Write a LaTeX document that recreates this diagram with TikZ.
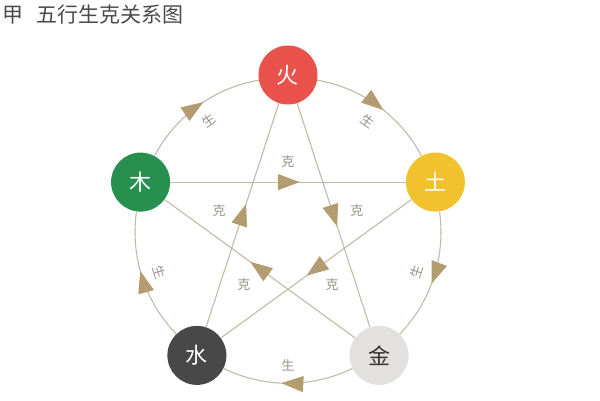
\documentclass[tikz,border=0pt]{standalone}
\usepackage{fontspec}
\newfontfamily\cjk{Noto Sans CJK SC}
\usetikzlibrary{arrows.meta,decorations.markings,positioning}

\definecolor{huocol}{HTML}{E8524A}
\definecolor{mucol}{HTML}{27904E}
\definecolor{tucol}{HTML}{F1C22E}
\definecolor{shuicol}{HTML}{484848}
\definecolor{jincol}{HTML}{E3E1DF}
\definecolor{linkcol}{HTML}{C2B9A8}
\definecolor{tipcol}{HTML}{B39C70}
\definecolor{lblcol}{HTML}{979285}
\definecolor{titlecol}{HTML}{4A4A4A}

\begin{document}
\begin{tikzpicture}[x=1pt,y=1pt,auto,
                    every edge/.style={draw=linkcol,line width=1.1pt}]
  \tikzstyle{element}=[circle,minimum size=59pt,inner sep=0pt,text=white,
                       font=\cjk\fontsize{22}{22}\selectfont]
  \tikzstyle{mid}=[postaction={decorate,decoration={markings,
                   mark=at position 0.55 with {\arrow{Triangle[length=22pt,width=16pt,color=tipcol]}}}}]
  \tikzstyle{lbl}=[font=\cjk\fontsize{13}{13}\selectfont,text=lblcol,inner sep=12pt]
  \tikzstyle{round}=[bend left=26,looseness=0.9,mid]

  \useasboundingbox (-288,-170) rectangle (312,230);

  \node[anchor=west,inner sep=0pt,text=titlecol,font=\cjk\fontsize{21}{21}\selectfont]
    (title) at (-286,215) {甲\hspace{13pt}五行生克关系图};

  \node[element,fill=huocol] (huo) at (90:155) {火};
  \node[element,fill=mucol] (mu) at (162:155) {木};
  \node[element,fill=tucol] (tu) at (18:155) {土};
  \node[element,fill=shuicol] (shui) at (234:155) {水};
  \node[element,fill=jincol,text=black!80] (jin) at (306:155) {金};

  % sheng: round the circle
  \path (mu) edge [round] node [lbl,sloped,swap] {生} (huo)
        (huo) edge [round] node [lbl,sloped,swap] {生} (tu)
        (tu) edge [round] node [lbl,sloped] {生} (jin)
        (jin) edge [round] node [lbl,sloped] {生} (shui)
        (shui) edge [round] node [lbl,sloped] {生} (mu);

  % ke: the star
  \path (mu) edge [mid] node [lbl,inner sep=14pt] {克} (tu)
        (huo) edge [mid] node [lbl,pos=0.56] {克} (jin)
        (tu) edge [mid] node [lbl,inner sep=9pt] {克} (shui)
        (jin) edge [mid] node [lbl,inner sep=9pt] {克} (mu)
        (shui) edge [mid] node [lbl,pos=0.44] {克} (huo);
\end{tikzpicture}
\end{document}
